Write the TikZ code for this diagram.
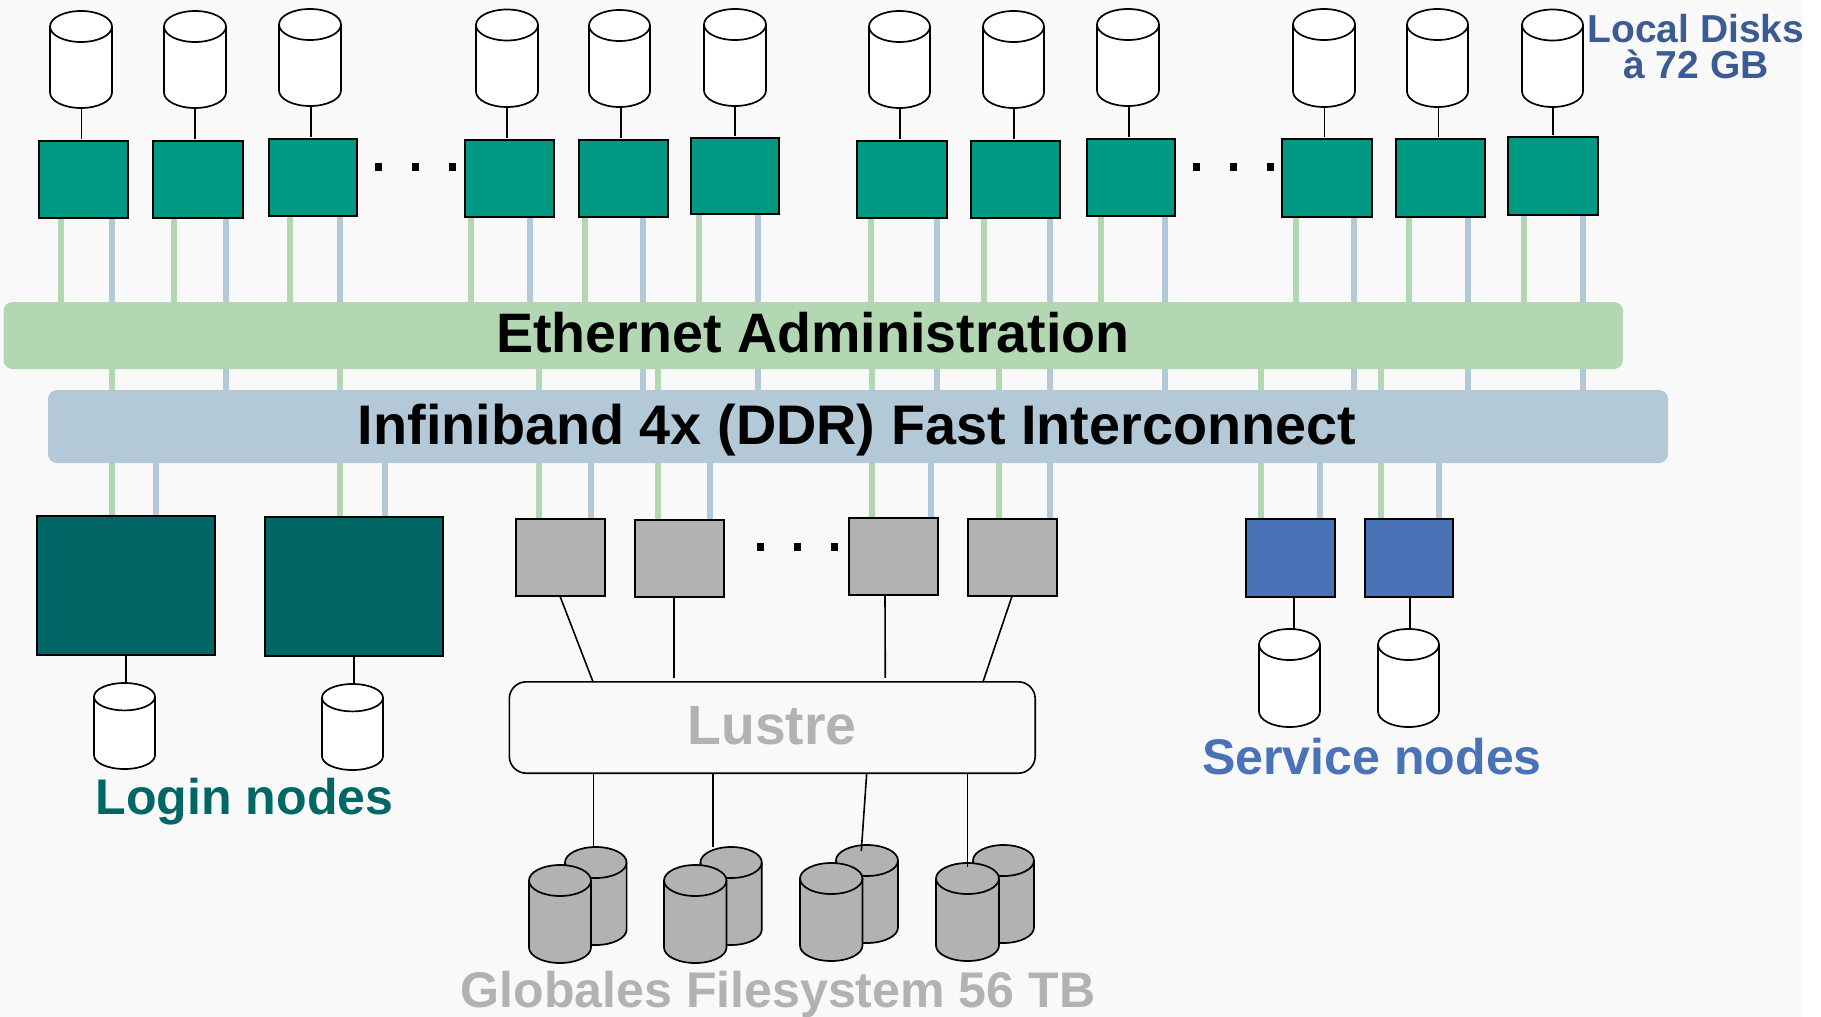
\documentclass[tikz,border=0pt]{standalone}
\usepackage{fontspec}
\setmainfont{Liberation Sans}
\pgfdeclarelayer{bgrect}
\pgfdeclarelayer{links}
\pgfsetlayers{bgrect,links,main}
\definecolor{pagebg}{HTML}{F9F9F9}
\definecolor{tealc}{HTML}{009983}
\definecolor{darkteal}{HTML}{006666}
\definecolor{grayc}{HTML}{B2B2B2}
\definecolor{bluec}{HTML}{4A72B6}
\definecolor{linkgreen}{HTML}{B3D7B3}
\definecolor{linkblue}{HTML}{B3C9D7}
\definecolor{diskblue}{HTML}{3B5B93}
\tikzset{
  boxbase/.style={rectangle,draw=black,line width=1.7pt,inner sep=0pt,outer sep=0pt},
  computebox/.style={boxbase,fill=tealc},
  loginbox/.style={boxbase,fill=darkteal},
  iobox/.style={boxbase,fill=grayc},
  servicebox/.style={boxbase,fill=bluec},
  diskholder/.style={rectangle,inner sep=0pt,outer sep=0pt},
  diskline/.style={draw=black,line width=1.7pt,line join=round},
  bar/.style={rectangle,rounded corners=9pt,inner sep=0pt,outer sep=0pt},
  wire/.style={draw=black,line width=1.6pt},
  glink/.style={draw=linkgreen,line width=6pt},
  blink/.style={draw=linkblue,line width=6pt},
  dotmark/.style={rectangle,fill=black,inner sep=0pt,outer sep=0pt,minimum width=7pt,minimum height=8pt},
  label/.style={inner sep=0pt,outer sep=0pt,anchor=base,font=\bfseries},
}
% name, style, x0, y0, x1, y1
\newcommand\mkbox[6]{\pgfmathsetmacro\bxw{(#5)-(#3)}\pgfmathsetmacro\bxh{(#6)-(#4)}%
  \node[#2,minimum width=\bxw pt,minimum height=\bxh pt] (#1) at ({((#3)+(#5))/2},{((#4)+(#6))/2}) {};}
% outlined cell: the corners given are the outer edges of the stroke
\newcommand\mkcell[6]{\mkbox{#1}{#2}{#3+.8}{#4+.8}{#5-.8}{#6-.8}}
% disk: name, fill, x0, y0, x1, y1, ellipse y radius
\newcommand\mkdisk[7]{\mkbox{#1}{diskholder}{#3}{#4}{#5}{#6}%
  \pgfmathsetmacro\dkrx{(#5-#3)/2}%
  \draw[diskline,fill=#2] (#3,{#4+#7}) arc[start angle=180,end angle=360,x radius=\dkrx,y radius=#7]
     -- (#5,{#6-#7}) arc[start angle=0,end angle=180,x radius=\dkrx,y radius=#7] -- cycle;
  \draw[diskline] (#3,{#4+#7}) arc[start angle=180,end angle=0,x radius=\dkrx,y radius=#7];}
% vertical connector at absolute x, between the levels of two anchors
\newcommand\vlink[4]{\draw[#1] (#2 -| #4,0) -- (#3 -| #4,0);}
\begin{document}
\begin{tikzpicture}[x=1pt,y=-1pt]
\useasboundingbox (0,0) rectangle (1821,1017);
\begin{pgfonlayer}{bgrect}
  \fill[white] (0,0) rectangle (1821,1017);
  \fill[pagebg] (0,0) rectangle (1803,1017);
\end{pgfonlayer}

% bars
\mkbox{eth}{bar,fill=linkgreen}{3.5}{302}{1623}{369}
\mkbox{inf}{bar,fill=linkblue}{48}{390}{1668}{463}
\node[label,font=\fontsize{55.6}{60}\selectfont\bfseries] (ethtext) at (813,352) {Ethernet Administration};
\node[label,font=\fontsize{55.8}{60}\selectfont\bfseries] (inftext) at (857,444) {Infiniband 4x (DDR) Fast Interconnect};

% compute boxes
\mkcell{c1}{computebox}{38}{140}{129}{219}
\mkcell{c2}{computebox}{152}{140}{244}{219}
\mkcell{c3}{computebox}{268}{138}{358}{217}
\mkcell{c4}{computebox}{464}{139}{555}{218}
\mkcell{c5}{computebox}{578}{139}{669}{218}
\mkcell{c6}{computebox}{690}{137}{780}{215}
\mkcell{c7}{computebox}{856}{140}{948}{219}
\mkcell{c8}{computebox}{970}{140}{1061}{219}
\mkcell{c9}{computebox}{1086}{138}{1176}{217}
\mkcell{c10}{computebox}{1281}{138}{1373}{218}
\mkcell{c11}{computebox}{1395}{138}{1486}{218}
\mkcell{c12}{computebox}{1507.5}{136}{1598.5}{216}

% local disks
\mkdisk{d1}{white}{50}{11}{112}{108}{15.5}
\mkdisk{d2}{white}{164}{11}{226}{108}{15.5}
\mkdisk{d3}{white}{279}{9}{341}{106}{15.5}
\mkdisk{d4}{white}{476}{9.5}{538}{107}{15.5}
\mkdisk{d5}{white}{589}{10}{650}{107}{15.5}
\mkdisk{d6}{white}{704}{9}{766}{106}{15.5}
\mkdisk{d7}{white}{869}{11}{930}{108}{15.5}
\mkdisk{d8}{white}{983}{11}{1044}{108}{15.5}
\mkdisk{d9}{white}{1097}{9}{1159}{106}{15.5}
\mkdisk{d10}{white}{1293}{9}{1355}{107}{15.5}
\mkdisk{d11}{white}{1407}{9}{1468}{107}{15.5}
\mkdisk{d12}{white}{1522}{9.5}{1583}{107}{15.5}

\foreach \dk/\cb/\lx in {d1/c1/81.5,d2/c2/195,d3/c3/310.7,d4/c4/507,d5/c5/621,d6/c6/735,d7/c7/900,d8/c8/1014,d9/c9/1129,d10/c10/1324.6,d11/c11/1438.6,d12/c12/1553}
  {\draw[wire,shorten >=2pt] (\dk.south -| \lx,0) -- (\cb.north -| \lx,0);}

% ellipsis dots
\node[dotmark] (t1) at (378.5,167) {};
\node[dotmark] (t2) at (415.5,167) {};
\node[dotmark] (t3) at (452.5,167) {};
\node[dotmark] (t4) at (1196.5,167) {};
\node[dotmark] (t5) at (1233.5,167) {};
\node[dotmark] (t6) at (1270.5,167) {};
\node[dotmark] (m1) at (760.5,547) {};
\node[dotmark] (m2) at (797.5,547) {};
\node[dotmark] (m3) at (834.5,547) {};

% login nodes
\mkcell{l1}{loginbox}{36}{515}{216}{656}
\mkcell{l2}{loginbox}{264}{516}{444}{657}
\mkdisk{ld1}{white}{94}{683}{155}{769}{13.7}
\mkdisk{ld2}{white}{322}{684}{383}{770}{13.7}
\vlink{wire}{l1.south}{ld1.north}{126}
\vlink{wire}{l2.south}{ld2.north}{354}

% io nodes
\mkcell{g1}{iobox}{515}{518}{606}{597}
\mkcell{g2}{iobox}{634}{519}{724.6}{598}
\mkcell{g3}{iobox}{848}{517}{939}{596}
\mkcell{g4}{iobox}{967}{518}{1058}{597}

% service nodes
\mkcell{s1}{servicebox}{1245}{518}{1336}{598}
\mkcell{s2}{servicebox}{1364}{518}{1454}{598}
\mkdisk{sd1}{white}{1259}{629}{1320}{727}{15.5}
\mkdisk{sd2}{white}{1378}{629}{1439}{727}{15.5}
\vlink{wire}{s1.south}{sd1.north}{1294}
\vlink{wire}{s2.south}{sd2.north}{1410}

% lustre
\mkcell{lus}{boxbase,rounded corners=17pt,line width=1.6pt,fill=pagebg}{508.5}{681}{1036}{774}
\draw[wire] (g1.south -| 560,0) -- (lus.north -| 593,0);
\draw[wire,shorten >=4pt] (g2.south -| 674,0) -- (lus.north -| 674,0);
\draw[wire,shorten >=4pt] (g3.south -| 885,0) -- (lus.north -| 885.3,0);
\draw[wire] (g4.south -| 1012,0) -- (lus.north -| 983,0);

% global disks
\mkdisk{b1}{grayc}{565}{847}{626.6}{945}{15.5}
\mkdisk{f1}{grayc}{529}{865}{591}{963}{15.5}
\mkdisk{b2}{grayc}{700.4}{847}{761.8}{945}{15.5}
\mkdisk{f2}{grayc}{664}{865}{726.5}{963}{15.5}
\mkdisk{b3}{grayc}{836}{845}{898}{943}{15.5}
\mkdisk{f3}{grayc}{800}{863}{862.5}{961}{15.5}
\mkdisk{b4}{grayc}{973}{845}{1034}{943}{15.5}
\mkdisk{f4}{grayc}{936}{863}{999}{961}{15.5}
\draw[wire] (lus.south -| 593.5,0) -- (b1.north -| 593.5,0);
\draw[wire] (lus.south -| 713,0) -- (b2.north -| 713,0);
\draw[wire,shorten >=-6pt] (lus.south -| 866.7,0) -- (b3.north -| 861.7,0);
\draw[wire,shorten >=-4pt] (lus.south -| 967.4,0) -- (f4.north -| 967.4,0);

% links
\begin{pgfonlayer}{links}
  \foreach \cb/\lx in {c1/112,c2/226,c3/340,c5/643,c6/758,c7/936.5,c8/1050,c9/1165,c10/1354,c11/1468,c12/1583}
    {\vlink{blink}{\cb.south}{inf.north}{\lx}}
  \vlink{blink}{c4.south}{eth.north}{530}
  \foreach \cb/\lx in {l1/156,l2/384.5,g1/591,g2/710,g3/931,g4/1050,s1/1320,s2/1439}
    {\vlink{blink}{\cb.north}{inf.south}{\lx}}
  \foreach \cb/\lx in {c1/61,c2/174,c3/289.5,c4/471,c5/585,c6/699,c7/871,c8/984,c9/1101,c10/1295.5,c11/1409,c12/1524}
    {\vlink{glink}{\cb.south}{eth.north}{\lx}}
  \foreach \cb/\lx in {l1/112,l2/340,g1/539,g2/658,g3/872,g4/999,s1/1261,s2/1381}
    {\vlink{glink}{\cb.north}{eth.south}{\lx}}
\end{pgfonlayer}

% labels
\node[label,text=grayc,font=\fontsize{55.3}{60}\selectfont\bfseries] (lustext) at (772,744) {Lustre};
\node[label,text=grayc,font=\fontsize{50.1}{60}\selectfont\bfseries] (globtext) at (778,1007) {Globales Filesystem 56 TB};
\node[label,text=darkteal,font=\fontsize{50.1}{60}\selectfont\bfseries] (logintext) at (244.5,814) {Login nodes};
\node[label,text=bluec,font=\fontsize{50.1}{60}\selectfont\bfseries] (servtext) at (1372,774) {Service nodes};
\node[label,text=diskblue,align=center,font=\fontsize{39}{36}\selectfont\bfseries] (localtext) at (1696,78) {Local Disks\\à 72 GB};
\end{tikzpicture}
\end{document}
